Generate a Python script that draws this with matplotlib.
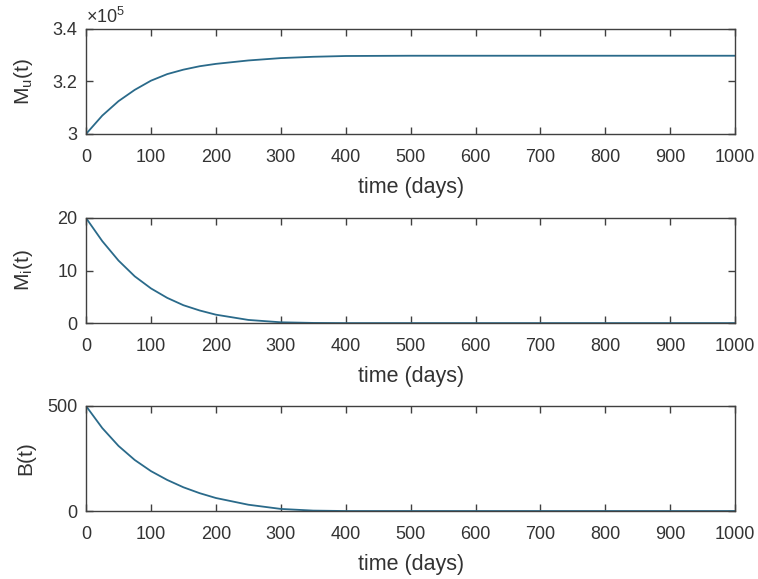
import numpy as np
import matplotlib
matplotlib.use("Agg")
import matplotlib.pyplot as plt
from matplotlib.ticker import FormatStrFormatter

plt.rcParams['font.family'] = ['Liberation Sans', 'DejaVu Sans']
plt.rcParams['mathtext.fontset'] = 'custom'
plt.rcParams['mathtext.rm'] = 'Liberation Sans'
plt.rcParams['mathtext.it'] = 'Liberation Sans'

# values
t_days = [0, 25, 50, 75, 100, 125, 150, 175, 200, 250, 300, 350, 400,
          500, 600, 700, 800, 900, 1000]
mu = [3.000e5, 3.070e5, 3.125e5, 3.168e5, 3.203e5, 3.228e5, 3.245e5, 3.258e5,
      3.267e5, 3.280e5, 3.289e5, 3.294e5, 3.297e5, 3.298e5, 3.298e5, 3.298e5,
      3.298e5, 3.298e5, 3.298e5]
mi = [20.0, 15.6, 11.9, 8.9, 6.6, 4.8, 3.4, 2.4, 1.6, 0.6, 0.15, 0.03, 0.0,
      0.0, 0.0, 0.0, 0.0, 0.0, 0.0]
b = [500, 395, 310, 243, 190, 148, 113, 85, 62, 30, 10, 2, 0,
     0, 0, 0, 0, 0, 0]

xticks = list(range(0, 1001, 100))
line_col = '#2a6a8a'
txt_col = '#333333'

fig = plt.figure(figsize=(7.58, 5.79), dpi=100)
boxes = [[0.1135, 0.7686, 0.8565, 0.1814],
         [0.1135, 0.4420, 0.8565, 0.1815],
         [0.1135, 0.1174, 0.8565, 0.1814]]

panels = [
    (np.array(mu) / 1e5, 'M$_u$(t)', [3, 3.2, 3.4], (3, 3.4)),
    (mi, 'M$_i$(t)', [0, 10, 20], (0, 20)),
    (b, 'B(t)', [0, 500], (0, 500)),
]

for box, (vals, lab, yt, ylim) in zip(boxes, panels):
    ax = fig.add_axes(box)
    ax.plot(t_days, vals, color=line_col, lw=1.3)
    ax.set_xlim(0, 1000)
    ax.set_ylim(*ylim)
    ax.set_xticks(xticks)
    ax.set_yticks(yt)
    ax.yaxis.set_major_formatter(FormatStrFormatter('%g'))
    ax.tick_params(direction='in', top=True, right=True, length=5,
                   width=1.0, labelsize=13, color='#404040',
                   labelcolor=txt_col)
    ax.tick_params(axis='x', pad=11)
    ax.tick_params(axis='y', pad=6)
    for s in ax.spines.values():
        s.set_color('#404040')
        s.set_linewidth(1.0)
    ax.set_xlabel('time (days)', fontsize=15.5, color=txt_col, labelpad=8)
    ax.set_ylabel(lab, fontsize=15, color=txt_col)
    ax.yaxis.set_label_coords(-0.078, 0.5)
    if lab.startswith('M$_u'):
        ax.text(0.0, 1.02, r'$\times10^5$', transform=ax.transAxes,
                fontsize=13, color=txt_col, ha='left', va='bottom')

fig.savefig('out.png', dpi=100)
